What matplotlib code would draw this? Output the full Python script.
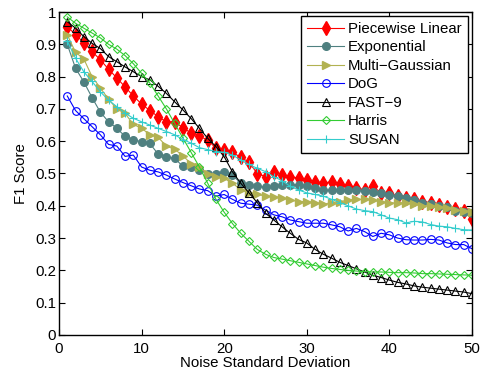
import matplotlib
matplotlib.use("Agg")
import matplotlib.pyplot as plt
from matplotlib.ticker import FormatStrFormatter, MultipleLocator

plt.rcParams['font.family'] = ['Liberation Sans', 'DejaVu Sans']

noise = list(range(1, 51))
x_ticks = [0, 10, 20, 30, 40, 50]

piecewise_linear = [0.955, 0.93, 0.905, 0.878, 0.852, 0.823, 0.796, 0.768, 0.74, 0.715,
                    0.695, 0.676, 0.66, 0.66, 0.642, 0.625, 0.615, 0.604, 0.578, 0.572,
                    0.566, 0.55, 0.535, 0.5, 0.49, 0.505, 0.495, 0.49, 0.486, 0.48,
                    0.475, 0.47, 0.475, 0.468, 0.46, 0.455, 0.45, 0.46, 0.44, 0.44,
                    0.43, 0.425, 0.42, 0.413, 0.41, 0.403, 0.397, 0.39, 0.383, 0.36]

exponential = [0.9, 0.826, 0.784, 0.735, 0.69, 0.66, 0.64, 0.615, 0.605, 0.598,
               0.593, 0.56, 0.552, 0.547, 0.522, 0.52, 0.51, 0.5, 0.497, 0.505,
               0.495, 0.47, 0.465, 0.46, 0.458, 0.462, 0.465, 0.465, 0.465, 0.462,
               0.455, 0.448, 0.448, 0.449, 0.45, 0.45, 0.445, 0.443, 0.44, 0.434,
               0.43, 0.424, 0.418, 0.41, 0.405, 0.4, 0.395, 0.385, 0.38, 0.377]

multi_gaussian = [0.93, 0.875, 0.855, 0.8, 0.765, 0.73, 0.7, 0.686, 0.652, 0.64,
                  0.62, 0.612, 0.585, 0.575, 0.555, 0.53, 0.52, 0.497, 0.49, 0.485,
                  0.47, 0.45, 0.44, 0.435, 0.43, 0.428, 0.425, 0.418, 0.413, 0.413,
                  0.41, 0.405, 0.41, 0.413, 0.418, 0.42, 0.42, 0.418, 0.412, 0.41,
                  0.408, 0.41, 0.405, 0.4, 0.4, 0.397, 0.393, 0.387, 0.385, 0.38]

dog = [0.74, 0.695, 0.67, 0.645, 0.62, 0.59, 0.585, 0.553, 0.557, 0.52,
       0.51, 0.505, 0.495, 0.483, 0.472, 0.462, 0.452, 0.447, 0.43, 0.435,
       0.42, 0.408, 0.405, 0.402, 0.387, 0.372, 0.366, 0.356, 0.351, 0.346,
       0.346, 0.346, 0.341, 0.335, 0.322, 0.33, 0.32, 0.305, 0.315, 0.31,
       0.3, 0.295, 0.294, 0.294, 0.296, 0.294, 0.285, 0.28, 0.28, 0.267]

fast9 = [0.97, 0.95, 0.924, 0.903, 0.887, 0.862, 0.846, 0.83, 0.815, 0.8,
         0.79, 0.77, 0.748, 0.722, 0.697, 0.67, 0.64, 0.609, 0.583, 0.552,
         0.505, 0.47, 0.44, 0.41, 0.377, 0.356, 0.335, 0.315, 0.296, 0.285,
         0.265, 0.25, 0.238, 0.225, 0.215, 0.205, 0.195, 0.185, 0.178, 0.17,
         0.163, 0.158, 0.152, 0.148, 0.145, 0.142, 0.139, 0.136, 0.133, 0.128]

harris = [0.985, 0.965, 0.95, 0.935, 0.92, 0.9, 0.885, 0.865, 0.84, 0.81,
          0.78, 0.74, 0.70, 0.655, 0.61, 0.565, 0.52, 0.47, 0.42, 0.38,
          0.345, 0.315, 0.29, 0.265, 0.25, 0.24, 0.235, 0.23, 0.225, 0.22,
          0.215, 0.21, 0.206, 0.203, 0.2, 0.198, 0.196, 0.195, 0.195, 0.194,
          0.193, 0.193, 0.192, 0.19, 0.19, 0.189, 0.188, 0.187, 0.186, 0.185]

susan = [0.91, 0.857, 0.815, 0.785, 0.753, 0.727, 0.707, 0.687, 0.671, 0.66,
         0.65, 0.64, 0.63, 0.62, 0.605, 0.594, 0.58, 0.574, 0.568, 0.566,
         0.557, 0.542, 0.528, 0.516, 0.506, 0.49, 0.478, 0.46, 0.449, 0.44,
         0.435, 0.43, 0.42, 0.41, 0.4, 0.39, 0.385, 0.382, 0.372, 0.362,
         0.357, 0.347, 0.352, 0.35, 0.342, 0.337, 0.335, 0.33, 0.326, 0.325]

labels = ["Piecewise Linear", "Exponential", "Multi\u2212Gaussian", "DoG", "FAST\u22129", "Harris", "SUSAN"]

fig = plt.figure(figsize=(4.8, 3.74), dpi=100)
ax = fig.add_axes([59/480, 39/374, 413/480, 323/374])

lw = 0.8
ax.plot(noise, piecewise_linear, color='#ff0000', marker='d', ms=7, lw=lw, mfc='#ff0000', mec='#ff0000', label=labels[0])
ax.plot(noise, exponential, color='#4f8080', marker='o', ms=5.5, lw=lw, mfc='#4f8080', mec='#4f8080', label=labels[1])
ax.plot(noise, multi_gaussian, color='#b2b252', marker='>', ms=6, lw=lw, mfc='#b2b252', mec='#b2b252', label=labels[2])
ax.plot(noise, dog, color='#0000ff', marker='o', ms=5.5, lw=lw, mfc='none', mec='#0000ff', mew=0.8, label=labels[3])
ax.plot(noise, fast9, color='black', marker='^', ms=6, lw=lw, mfc='none', mec='black', mew=0.8, label=labels[4])
ax.plot(noise, harris, color='#33cc33', marker='D', ms=4.2, lw=lw, mfc='none', mec='#33cc33', mew=0.8, label=labels[5])
ax.plot(noise, susan, color='#33cccc', marker='+', ms=6, lw=lw, mec='#33cccc', mew=0.8, label=labels[6])

ax.set_xlim(0, 50)
ax.set_ylim(0, 1)
ax.set_xticks(x_ticks)
ax.set_xticklabels([str(t) for t in x_ticks], fontsize=10.8)
ax.yaxis.set_major_locator(MultipleLocator(0.1))
ax.yaxis.set_major_formatter(FormatStrFormatter('%g'))
ax.tick_params(axis='both', direction='in', top=True, right=True, length=4, width=0.8)
ax.tick_params(axis='y', labelsize=10.8, pad=2)
ax.tick_params(axis='x', labelsize=10.8, pad=5)
for s in ax.spines.values():
    s.set_linewidth(1.0)
ax.set_xlabel("Noise Standard Deviation", fontsize=10.8, labelpad=0)
ax.set_ylabel("F1 Score", fontsize=10.8, labelpad=5)

leg = ax.legend(loc='upper right', bbox_to_anchor=(0.99, 0.988), borderaxespad=0,
                fontsize=10.8, fancybox=False, edgecolor='black', framealpha=1,
                handlelength=2.5, handletextpad=0.25, labelspacing=0.3, borderpad=0.4)
leg.get_frame().set_linewidth(1.0)

fig.savefig("out.png", dpi=100)
